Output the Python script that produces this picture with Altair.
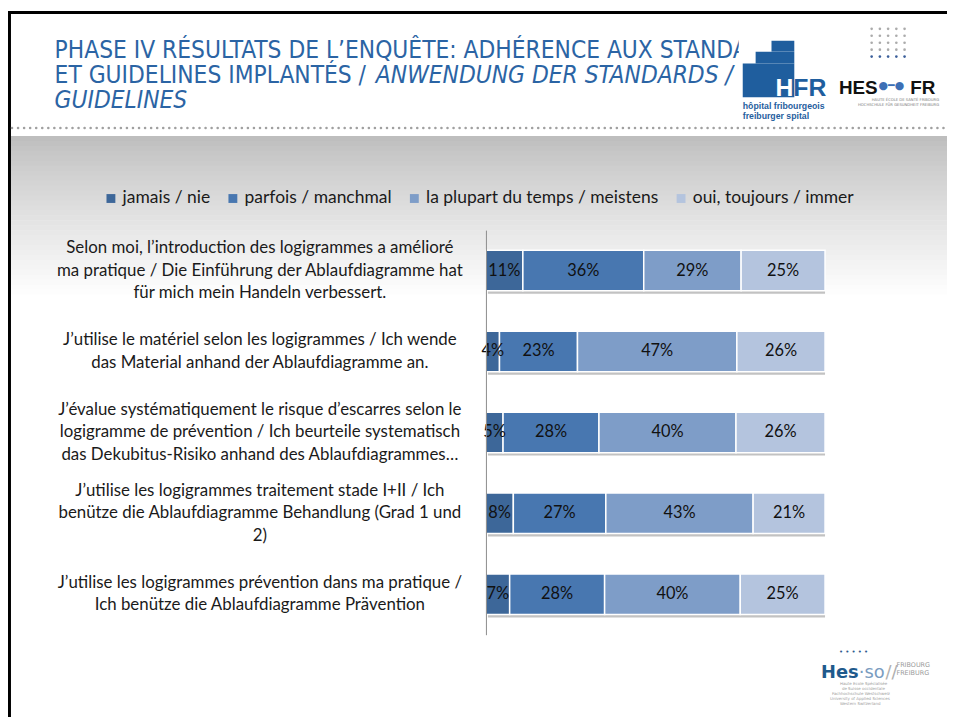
import altair as alt
import pandas as pd

questions = [
    "Selon moi, l’introduction des logigrammes a amélioré\nma pratique / Die Einführung der Ablaufdiagramme hat\nfür mich mein Handeln verbessert.",
    "J’utilise le matériel selon les logigrammes / Ich wende\ndas Material anhand der Ablaufdiagramme an.",
    "J’évalue systématiquement le risque d’escarres selon le\nlogigramme de prévention / Ich beurteile systematisch\ndas Dekubitus-Risiko anhand des Ablaufdiagrammes…",
    "J’utilise les logigrammes traitement stade I+II / Ich\nbenütze die Ablaufdiagramme Behandlung (Grad 1 und\n2)",
    "J’utilise les logigrammes prévention dans ma pratique /\nIch benütze die Ablaufdiagramme Prävention",
]
responses = [
    "jamais / nie",
    "parfois / manchmal",
    "la plupart du temps / meistens",
    "oui, toujours / immer",
]
jamais = [11, 4, 5, 8, 7]
parfois = [36, 23, 28, 27, 28]
plupart = [29, 47, 40, 43, 40]
toujours = [25, 26, 26, 21, 25]
colors = ["#3D6799", "#4877B0", "#7E9DC8", "#B4C4DE"]

title_l1 = "PHASE IV RÉSULTATS DE L’ENQUÊTE: ADHÉRENCE AUX STANDARDS"
title_l2a = "ET GUIDELINES IMPLANTÉS / "
title_l2b = "ANWENDUNG DER STANDARDS /"
title_l3 = "GUIDELINES"

rows = []
for qi, q in enumerate(questions):
    for ri, vals in enumerate([jamais, parfois, plupart, toujours]):
        rows.append({"question": q, "response": responses[ri], "order": ri, "value": vals[qi]})
df = pd.DataFrame(rows)
qdf = pd.DataFrame({
    "question": questions,
    "n": [q.count("\n") + 1 for q in questions],
    "s0": [0.0] * len(questions),
    "s1": [1.0] * len(questions),
})

FONT = "Lato"
TFONT = "Liberation Sans Narrow, DejaVu Sans Condensed, sans-serif"
BLUE = "#2B64A4"
W, H = 342, 408
PL, PT = 482, 221
PR, PB = 947 - PL - W, 712 - PT - H
LH = 22.5


def deco():
    return alt.Chart(alt.Data(values=[{"k": 1}]))


def rect(x1, x2, y1, y2, **kw):
    return deco().mark_rect(**kw).encode(
        x=alt.value(x1), x2=alt.value(x2), y=alt.value(y1), y2=alt.value(y2)
    )


def txt(s, x, y, **kw):
    kw.setdefault("align", "left")
    kw.setdefault("baseline", "alphabetic")
    return deco().mark_text(text=s, **kw).encode(x=alt.value(x), y=alt.value(y))


xscale = alt.Scale(domain=[0, 1], nice=False, zero=True)
y_enc = alt.Y(
    "question:N",
    sort=questions,
    scale=alt.Scale(paddingInner=0.5, paddingOuter=0.25),
    axis=alt.Axis(labels=False, ticks=False, title=None, domainColor="#8C8C8C",
                  domainWidth=1, zindex=1),
)

# gray band fading to white (drawn as thin solid strips)
grad = []
n_strips = 33
g_top, g_bot = -95, 70
for i in range(n_strips):
    t = i / (n_strips - 1)
    v = int(round(190 + (255 - 190) * (t ** 0.85)))
    c = "#%02X%02X%02X" % (v, v, v)
    y1 = g_top + (g_bot - g_top) * i / n_strips
    y2 = g_top + (g_bot - g_top) * (i + 1) / n_strips + 0.6
    grad.append(rect(-479, 465, y1, y2, color=c))

border_left = rect(-482, -479, -221, H + PB, color="#000000")
border_top = rect(-482, 465, -221, -218, color="#000000")

dots = deco().mark_rule(color="#A0A0A0", strokeWidth=2.5, strokeDash=[0.1, 6], strokeCap="round").encode(
    x=alt.value(-478), x2=alt.value(465), y=alt.value(-103)
)

TS = 24.5
t1 = txt(title_l1, -435, -174, font=TFONT, fontSize=TS, color=BLUE)
t2a = txt(title_l2a, -435, -148, font=TFONT, fontSize=TS, color=BLUE)
t2b = txt(title_l2b, -111, -148, font=TFONT, fontSize=TS, color=BLUE, fontStyle="italic")
t3 = txt(title_l3, -435, -123, font=TFONT, fontSize=TS, color=BLUE, fontStyle="italic")

cover = rect(255, 465, -217, -107, color="#FFFFFF")

# HFR logo
LB = "#1F5E9E"
hfr1 = rect(259, 311, -168, -134, color=LB)
hfr2 = rect(272, 311, -180, -168, color=LB)
hfr3 = rect(288, 311, -191, -180, color=LB)
hfr_h = txt("H", 292, -135, font="Liberation Sans", fontSize=25, fontWeight="bold", color="#FFFFFF")
hfr_fr = txt("FR", 310, -135, font="Liberation Sans", fontSize=25, fontWeight="bold", color=LB)
hfr_s1 = txt("hôpital fribourgeois", 259, -122, font="Liberation Sans", fontSize=8.8, fontWeight="bold", color=LB)
hfr_s2 = txt("freiburger spital", 259, -112, font="Liberation Sans", fontSize=8.8, fontWeight="bold", color=LB)

# HES-SO FR logo: 5x5 dot grid
grid = alt.Chart(alt.Data(values=[{"c": c, "r": r} for r in range(5) for c in range(5)])).transform_calculate(
    px="389 + 8.3 * datum.c", py="-203 + 7 * datum.r"
).mark_circle(size=7, opacity=1).encode(
    x=alt.X("px:Q", scale=None, axis=None),
    y=alt.Y("py:Q", scale=None, axis=None),
    color=alt.condition("datum.r == 4", alt.value("#3A5E9A"), alt.value("#ABABAB")),
)
hes_t = txt("HES", 356, -137, font="Liberation Sans", fontSize=19, fontWeight="bold", color="#111111")
hes_b = txt("●━●", 396, -142, font="DejaVu Sans", fontSize=11, color="#3D6FB5")
hes_fr = txt("FR", 428, -137, font="Liberation Sans", fontSize=19, fontWeight="bold", color="#111111")
hes_sm1 = txt("HAUTE ÉCOLE DE SANTÉ FRIBOURG", 457, -130, font="DejaVu Sans", fontSize=3.8,
              color="#777777", align="right")
hes_sm2 = txt("HOCHSCHULE FÜR GESUNDHEIT FREIBURG", 457, -125, font="DejaVu Sans", fontSize=3.8,
              color="#777777", align="right")

# bottom logo
b_dots = txt("• • • • •", 356, 427, font="DejaVu Sans", fontSize=7, color="#2E5B8E")
b_hes = txt("Hes", 338, 452, font="DejaVu Sans", fontSize=18, fontWeight="bold", color="#1F5A8C")
b_so = txt("·so", 376, 452, font="DejaVu Sans", fontSize=18, color="#7A9CBF")
b_sl = txt("//", 403, 452, font="DejaVu Sans", fontSize=18, color="#B0B0B0")
b_f1 = txt("FRIBOURG", 414, 441, font="DejaVu Sans", fontSize=6.5, color="#9A9A9A")
b_f2 = txt("FREIBURG", 414, 449, font="DejaVu Sans", fontSize=6.5, color="#9A9A9A")
b_small = [txt(s, 345 + dx, 459 + 5 * i, font="DejaVu Sans", fontSize=4, color="#A0A0A0")
           for i, (s, dx) in enumerate([("Haute Ecole Spécialisée", 12), ("de Suisse occidentale", 14),
                                         ("Fachhochschule Westschweiz", 4), ("University of Applied Sciences", 2),
                                         ("Western Switzerland", 12)])]

base = alt.Chart(df).transform_stack(
    stack="value", groupby=["question"], as_=["v0", "v1"], offset="normalize",
    sort=[alt.SortField("order", order="ascending")],
)

shadow = alt.Chart(qdf).mark_bar(color="#C2C2C2", xOffset=2, yOffset=3).encode(
    x=alt.X("s0:Q", scale=xscale, axis=None), x2="s1:Q", y=y_enc
)

bars = base.mark_bar(stroke="white", strokeWidth=1.5).encode(
    x=alt.X("v0:Q", scale=xscale, axis=None),
    x2="v1:Q",
    y=y_enc,
    color=alt.Color(
        "response:N",
        sort=responses,
        scale=alt.Scale(domain=responses, range=colors),
        legend=alt.Legend(
            title=None, orient="none", legendX=-387, legendY=-41, direction="horizontal",
            symbolType="square", symbolSize=80, symbolStrokeWidth=0,
            labelFont=FONT, labelFontSize=17.6, labelColor="#1A1A1A", labelLimit=400,
            columnPadding=14, labelOffset=3,
        ),
    ),
)

pct = base.transform_calculate(
    mid="(datum.v0 + datum.v1) / 2", lab="datum.value + '%'"
).mark_text(font=FONT, fontSize=16.5, color="#111111").encode(
    x=alt.X("mid:Q", scale=xscale, axis=None), y=y_enc, text="lab:N"
)

label_layers = []
for n in sorted(set(qdf["n"])):
    label_layers.append(
        alt.Chart(qdf).transform_filter(alt.datum.n == n).mark_text(
            font=FONT, fontSize=17, lineBreak="\n", align="center", baseline="middle",
            lineHeight=LH, color="#1A1A1A", dy=-(n - 1) * LH / 2,
        ).encode(x=alt.value(-228), y=y_enc, text="question:N")
    )

layers = [*grad, border_left, border_top, dots, t1, t2a, t2b, t3, cover,
          hfr1, hfr2, hfr3, hfr_h, hfr_fr, hfr_s1, hfr_s2,
          grid, hes_t, hes_b, hes_fr, hes_sm1, hes_sm2,
          b_dots, b_hes, b_so, b_sl, b_f1, b_f2, *b_small,
          shadow, bars, pct, *label_layers]

chart = alt.layer(*layers).properties(
    width=W, height=H,
    padding={"left": PL, "top": PT, "right": PR, "bottom": PB},
    autosize=alt.AutoSizeParams(type="none"),
    background="white",
).configure_view(stroke=None)

chart.save("out.html", embed_options={"renderer": "svg", "actions": False})
